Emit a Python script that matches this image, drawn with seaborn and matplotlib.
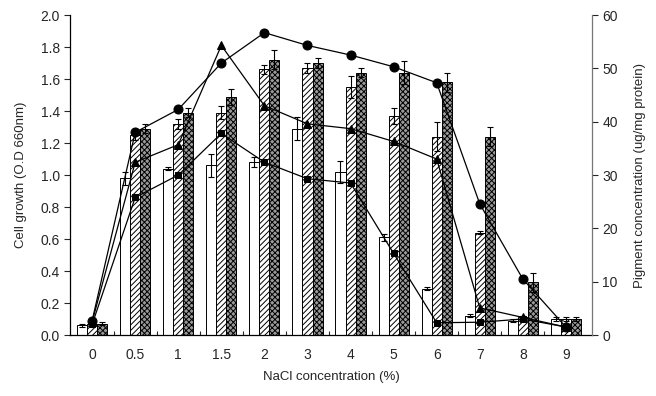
import numpy as np
import pandas as pd
import matplotlib
matplotlib.use("Agg")
import matplotlib.pyplot as plt
import seaborn as sns

categories = ["0", "0.5", "1", "1.5", "2", "3", "4", "5", "6", "7", "8", "9"]

# Cell growth bars (O.D 660nm)
bar_white = [0.06, 0.98, 1.04, 1.06, 1.08, 1.29, 1.02, 0.61, 0.29, 0.12, 0.09, 0.10]
bar_hatch = [0.07, 1.25, 1.32, 1.39, 1.66, 1.67, 1.55, 1.37, 1.24, 0.64, 0.11, 0.10]
bar_cross = [0.07, 1.29, 1.39, 1.49, 1.72, 1.70, 1.64, 1.64, 1.58, 1.24, 0.33, 0.10]
err_white = [0.01, 0.04, 0.01, 0.07, 0.03, 0.07, 0.07, 0.02, 0.01, 0.01, 0.01, 0.01]
err_hatch = [0.01, 0.03, 0.03, 0.04, 0.03, 0.03, 0.07, 0.05, 0.09, 0.01, 0.01, 0.01]
err_cross = [0.01, 0.03, 0.03, 0.05, 0.06, 0.03, 0.03, 0.07, 0.06, 0.06, 0.06, 0.01]

# Pigment concentration lines (ug/mg protein)
line_circle = [2.7, 38.0, 42.3, 51.0, 56.7, 54.3, 52.5, 50.3, 47.3, 24.6, 10.5, 1.5]
line_triangle = [2.5, 32.4, 35.7, 54.3, 43.0, 39.6, 38.7, 36.3, 33.0, 5.1, 3.3, 1.5]
line_square = [2.0, 25.8, 30.0, 37.8, 32.4, 29.3, 28.5, 15.3, 2.3, 2.4, 3.0, 1.5]

series_names = ["A", "B", "C"]
bar_errs = [err_white, err_hatch, err_cross]

df = pd.DataFrame({
    "cat": categories * 3,
    "series": np.repeat(series_names, len(categories)),
    "value": bar_white + bar_hatch + bar_cross,
})

sns.set_style("ticks")
plt.rcParams["font.family"] = ["Liberation Sans", "DejaVu Sans"]
plt.rcParams["hatch.linewidth"] = 0.7

fig = plt.figure(figsize=(6.56, 3.96), dpi=100)
ax = fig.add_axes([0.107, 0.154, 0.795, 0.808])

sns.barplot(data=df, x="cat", y="value", hue="series", order=categories,
            hue_order=series_names, errorbar=None, width=0.7,
            palette=["white", "white", "#9a9a9a"], edgecolor="black",
            linewidth=0.7, legend=False, ax=ax, zorder=2)

hatches = [None, "//////", "xxxxxx"]
n = len(categories)
bar_containers = list(ax.containers)
for i, cont in enumerate(bar_containers):
    xs = []
    tops = []
    for p in cont.patches:
        if hatches[i]:
            p.set_hatch(hatches[i])
        xs.append(p.get_x() + p.get_width() / 2)
        tops.append(p.get_height())
    ax.errorbar(xs, tops, yerr=bar_errs[i], fmt="none", ecolor="black",
                elinewidth=0.8, capsize=2.5, capthick=0.8, zorder=3)

ax.set_ylim(0, 2.0)
ax.set_xlim(-0.51, 11.6)
ax.set_yticks(np.arange(0, 2.01, 0.2))
ax.set_yticklabels([f"{v:.1f}" for v in np.arange(0, 2.01, 0.2)], fontsize=10)
ax.set_xticks(range(n))
ax.set_xticklabels(categories, fontsize=10)
ax.set_xticks(np.arange(0.5, n - 1, 1.0), minor=True)
ax.tick_params(axis="x", which="major", length=0, pad=9)
ax.tick_params(axis="x", which="minor", direction="in", length=3, width=0.8)
ax.tick_params(axis="y", direction="out", length=4, width=0.8)
ax.set_xlabel("NaCl concentration (%)", fontsize=9.5, labelpad=7)
ax.set_ylabel("Cell growth (O.D 660nm)", fontsize=9.5, labelpad=10)
for s in ["left", "bottom"]:
    ax.spines[s].set_color("black")
    ax.spines[s].set_linewidth(0.9)
ax.spines["top"].set_visible(False)
ax.spines["right"].set_visible(False)

ax2 = ax.twinx()
xpos = np.arange(n)
for vals, mk, ms in [(line_circle, "o", 6.5), (line_triangle, "^", 6), (line_square, "s", 5)]:
    sns.lineplot(x=xpos, y=vals, marker=mk, markersize=ms, color="black",
                 markeredgecolor="black", linewidth=0.9, ax=ax2, zorder=4)
ax2.set_ylim(0, 60)
ax2.set_yticks(np.arange(0, 61, 10))
ax2.set_yticklabels([str(v) for v in range(0, 61, 10)], fontsize=10)
ax2.tick_params(axis="y", direction="out", length=4, width=0.8)
ax2.set_ylabel("Pigment concentration (ug/mg protein)", fontsize=9.5, labelpad=12)
ax2.spines["top"].set_visible(False)
ax2.spines["left"].set_visible(False)
ax2.spines["bottom"].set_visible(False)
ax2.spines["right"].set_color("#777777")
ax2.spines["right"].set_linewidth(0.9)

fig.savefig("out.png", dpi=100)
